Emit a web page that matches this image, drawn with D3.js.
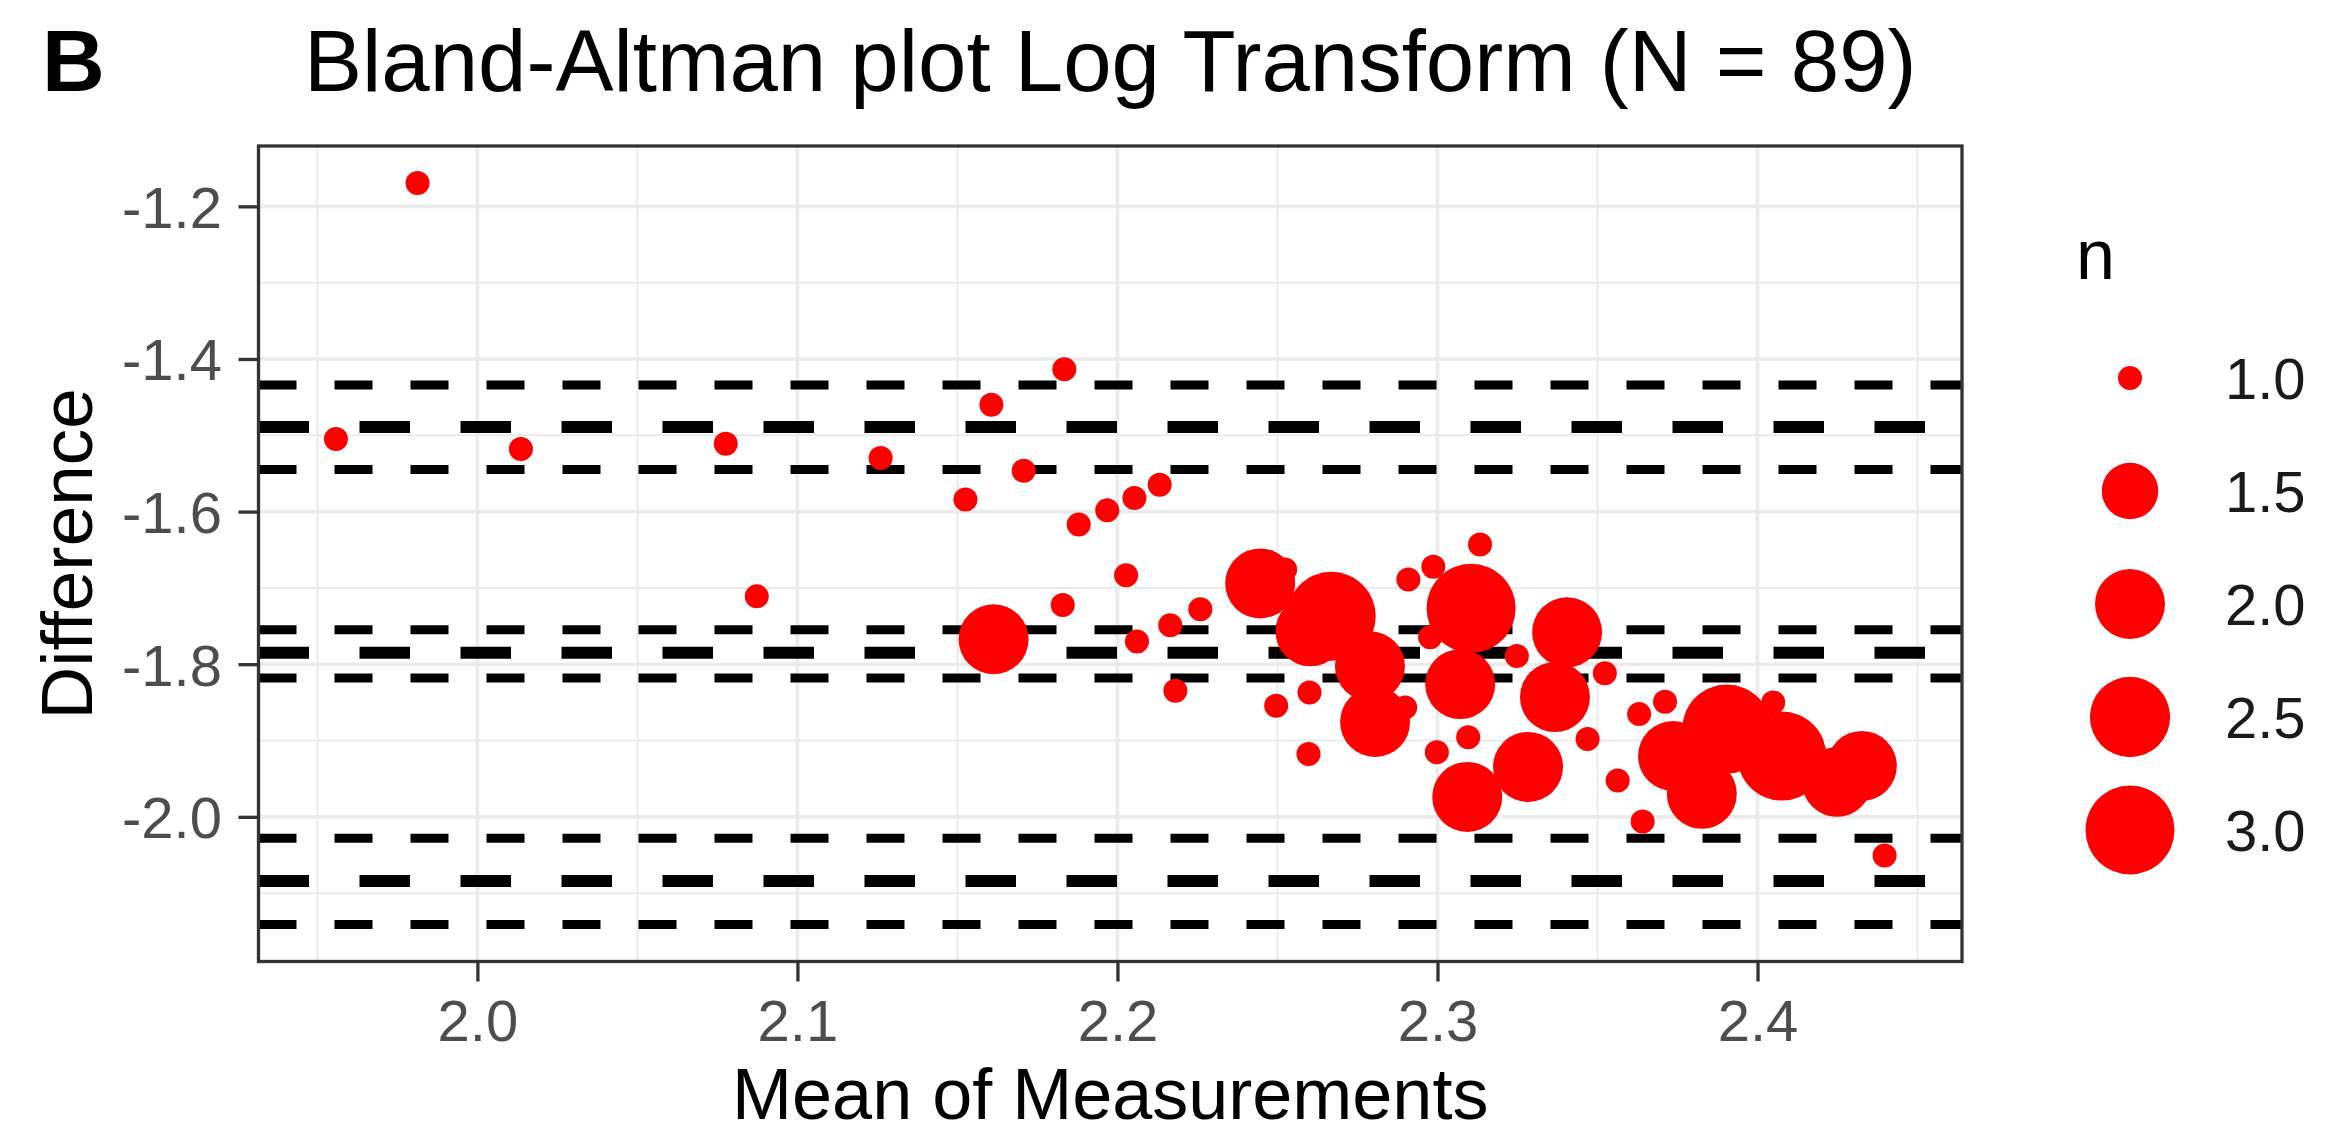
<!DOCTYPE html>
<html>
<head>
<meta charset="utf-8">
<script src="https://cdn.jsdelivr.net/npm/d3@7"></script>
<style>
  body { margin: 0; background: #ffffff; }
  text { font-family: "Liberation Sans", Arial, Helvetica, sans-serif; }
</style>
</head>
<body>
<script>

// ---- data ----
var meanVals = [
  1.9813, 1.9558, 2.0136, 2.0776, 2.0873, 2.1260, 2.1525, 2.1606, 2.1613, 2.1707,
  2.1829, 2.1834, 2.1879, 2.1968, 2.2027, 2.2053, 2.2061, 2.2132, 2.2165, 2.2181,
  2.2259, 2.2446, 2.2496, 2.2524, 2.2597, 2.2600, 2.2603, 2.2668, 2.2789, 2.2805,
  2.2899, 2.2909, 2.2977, 2.2987, 2.2998, 2.3071, 2.3093, 2.3096, 2.3105, 2.3133,
  2.3248, 2.3283, 2.3367, 2.3405, 2.3469, 2.3523, 2.3563, 2.3630, 2.3641, 2.3711,
  2.3736, 2.3826, 2.3904, 2.4049, 2.4076, 2.4248, 2.4326, 2.4397
];
var diffVals = [
  -1.1695, -1.5050, -1.5180, -1.5111, -1.7111, -1.5298, -1.5843, -1.4601, -1.7673, -1.5464,
  -1.7225, -1.4135, -1.6170, -1.5983, -1.6833, -1.5821, -1.7703, -1.5647, -1.7490, -1.8349,
  -1.7281, -1.6941, -1.8545, -1.6758, -1.9176, -1.8370, -1.7569, -1.7373, -1.8026, -1.8758,
  -1.8566, -1.6889, -1.7647, -1.6723, -1.9154, -1.8261, -1.9739, -1.8958, -1.7268, -1.6431,
  -1.7892, -1.9346, -1.8431, -1.7582, -1.8980, -1.8118, -1.9525, -1.8654, -2.0061, -1.8493,
  -1.9203, -1.9699, -1.8850, -1.8501, -1.9203, -1.9542, -1.9333, -2.0506
];
var nVals = [
  1, 1, 1, 1, 1, 1, 1, 1, 2, 1,
  1, 1, 1, 1, 1, 1, 1, 1, 1, 1,
  1, 2, 1, 1, 1, 1, 2, 3, 2, 2,
  1, 1, 1, 1, 1, 2, 2, 1, 3, 1,
  1, 2, 2, 2, 1, 1, 1, 1, 1, 1,
  2, 2, 3, 1, 3, 2, 2, 1
];

// bias, limits of agreement and their confidence limits
var lineValues = [-1.434, -1.489, -1.545, -1.755, -1.785, -1.818, -2.028, -2.084, -2.141];
var lineKinds  = ["ci", "main", "ci", "ci", "main", "ci", "ci", "main", "ci"];

var xTicks = [2.0, 2.1, 2.2, 2.3, 2.4];
var yTicks = [-1.2, -1.4, -1.6, -1.8, -2.0];
var sizeBreaks = [1.0, 1.5, 2.0, 2.5, 3.0];

var titleText = "Bland-Altman plot Log Transform (N = 89)";
var tagText = "B";
var xTitle = "Mean of Measurements";
var yTitle = "Difference";
var sizeTitle = "n";

// ---- layout ----
var width = 2330, height = 1136;
var panel = { left: 258.5, top: 146, right: 1962, bottom: 961.5 };

var points = meanVals.map(function(m, i) {
  return { mean: m, diff: diffVals[i], n: nVals[i] };
});
var lines = lineValues.map(function(v, i) { return { value: v, kind: lineKinds[i] } });

// ggplot style 5% expansion
function expand(ext) {
  var e = (ext[1] - ext[0]) * 0.05;
  return [ext[0] - e, ext[1] + e];
}

var x = d3.scaleLinear()
  .domain(expand(d3.extent(meanVals)))
  .range([panel.left, panel.right]);

var y = d3.scaleLinear()
  .domain(expand(d3.extent(diffVals.concat(lineValues))))
  .range([panel.bottom, panel.top]);

// area scale for n, like scale_size
var sizeScale = d3.scaleSqrt().domain([0, 2]).range([0, 32.5]);
function radius(n) { return 12 + sizeScale(n - 1); }

var svg = d3.select("body").append("svg")
  .attr("width", width)
  .attr("height", height)
  .style("display", "block");

svg.append("rect")
  .attr("width", width).attr("height", height)
  .attr("fill", "#ffffff");

// minor breaks halfway between the majors
function minorBreaks(ticks, scale) {
  var step = ticks[1] - ticks[0];
  var dom = scale.domain().slice().sort(d3.ascending);
  var out = [];
  ticks.concat([ticks[ticks.length - 1] + step]).forEach(function(t) {
    var m = t - step / 2;
    if (m > dom[0] && m < dom[1]) out.push(m);
  });
  return out;
}

var grid = svg.append("g").attr("class", "grid");

grid.selectAll("line.xminor")
  .data(minorBreaks(xTicks, x))
  .enter().append("line")
    .attr("x1", function(d) { return x(d) }).attr("x2", function(d) { return x(d) })
    .attr("y1", panel.top).attr("y2", panel.bottom)
    .attr("stroke", "#ebebeb").attr("stroke-width", 2);

grid.selectAll("line.yminor")
  .data(minorBreaks(yTicks.slice().reverse(), y))
  .enter().append("line")
    .attr("y1", function(d) { return y(d) }).attr("y2", function(d) { return y(d) })
    .attr("x1", panel.left).attr("x2", panel.right)
    .attr("stroke", "#ebebeb").attr("stroke-width", 2);

grid.selectAll("line.xmajor")
  .data(xTicks)
  .enter().append("line")
    .attr("x1", function(d) { return x(d) }).attr("x2", function(d) { return x(d) })
    .attr("y1", panel.top).attr("y2", panel.bottom)
    .attr("stroke", "#ebebeb").attr("stroke-width", 3.6);

grid.selectAll("line.ymajor")
  .data(yTicks)
  .enter().append("line")
    .attr("y1", function(d) { return y(d) }).attr("y2", function(d) { return y(d) })
    .attr("x1", panel.left).attr("x2", panel.right)
    .attr("stroke", "#ebebeb").attr("stroke-width", 3.6);

// dashed reference lines
svg.append("g").attr("class", "hlines")
  .selectAll("line")
  .data(lines)
  .enter().append("line")
    .attr("x1", panel.left).attr("x2", panel.right)
    .attr("y1", function(d) { return y(d.value) })
    .attr("y2", function(d) { return y(d.value) })
    .attr("stroke", "#000000")
    .attr("stroke-linecap", "butt")
    .attr("stroke-width", function(d) { return d.kind == "main" ? 12 : 9 })
    .attr("stroke-dasharray", function(d) { return d.kind == "main" ? "50.5 50.5" : "38 38" });

// points
svg.append("g").attr("class", "points")
  .selectAll("circle")
  .data(points)
  .enter().append("circle")
    .attr("cx", function(d) { return x(d.mean) })
    .attr("cy", function(d) { return y(d.diff) })
    .attr("r", function(d) { return radius(d.n) })
    .attr("fill", "#ff0000");

// panel border
svg.append("rect")
  .attr("x", panel.left).attr("y", panel.top)
  .attr("width", panel.right - panel.left)
  .attr("height", panel.bottom - panel.top)
  .attr("fill", "none")
  .attr("stroke", "#333333")
  .attr("stroke-width", 3.3);

// axes
var fmt = function(d) { return d.toFixed(1) };

var xAxis = svg.append("g")
  .attr("transform", "translate(0," + panel.bottom + ")")
  .call(d3.axisBottom(x).tickValues(xTicks).tickFormat(fmt).tickSize(20).tickPadding(18.5));

var yAxis = svg.append("g")
  .attr("transform", "translate(" + panel.left + ",0)")
  .call(d3.axisLeft(y).tickValues(yTicks).tickFormat(fmt).tickSize(20).tickPadding(16.5));

[xAxis, yAxis].forEach(function(ax) {
  ax.select(".domain").remove();
  ax.selectAll(".tick line").attr("stroke", "#333333").attr("stroke-width", 3.3);
  ax.selectAll(".tick text")
    .attr("fill", "#4d4d4d")
    .style("font-size", "58px")
    .style("font-family", "'Liberation Sans', Arial, sans-serif");
});
yAxis.selectAll(".tick text").attr("dy", "0.36em");

// titles
var cx = (panel.left + panel.right) / 2;
var cy = (panel.top + panel.bottom) / 2;

svg.append("text")
  .attr("x", cx).attr("y", 91)
  .attr("text-anchor", "middle")
  .style("font-size", "87px")
  .attr("fill", "#000000")
  .text(titleText);

svg.append("text")
  .attr("x", 42).attr("y", 91)
  .style("font-size", "87px")
  .style("font-weight", "bold")
  .attr("fill", "#000000")
  .text(tagText);

svg.append("text")
  .attr("x", cx).attr("y", 1119)
  .attr("text-anchor", "middle")
  .style("font-size", "72px")
  .attr("fill", "#000000")
  .text(xTitle);

svg.append("text")
  .attr("transform", "translate(92," + cy + ") rotate(-90)")
  .attr("text-anchor", "middle")
  .style("font-size", "73px")
  .attr("fill", "#000000")
  .text(yTitle);

// size legend
var legend = svg.append("g").attr("class", "legend");

legend.append("text")
  .attr("x", 2076).attr("y", 279)
  .style("font-size", "70px")
  .attr("fill", "#000000")
  .text(sizeTitle);

var keys = legend.selectAll("g.key")
  .data(sizeBreaks)
  .enter().append("g")
    .attr("class", "key")
    .attr("transform", function(d, i) { return "translate(0," + (378 + i * 113) + ")" });

keys.append("circle")
  .attr("cx", 2130).attr("cy", 0)
  .attr("r", function(d) { return radius(d) })
  .attr("fill", "#ff0000");

keys.append("text")
  .attr("x", 2225).attr("y", 21)
  .style("font-size", "58px")
  .attr("fill", "#1a1a1a")
  .text(function(d) { return d.toFixed(1) });

</script>
</body>
</html>
